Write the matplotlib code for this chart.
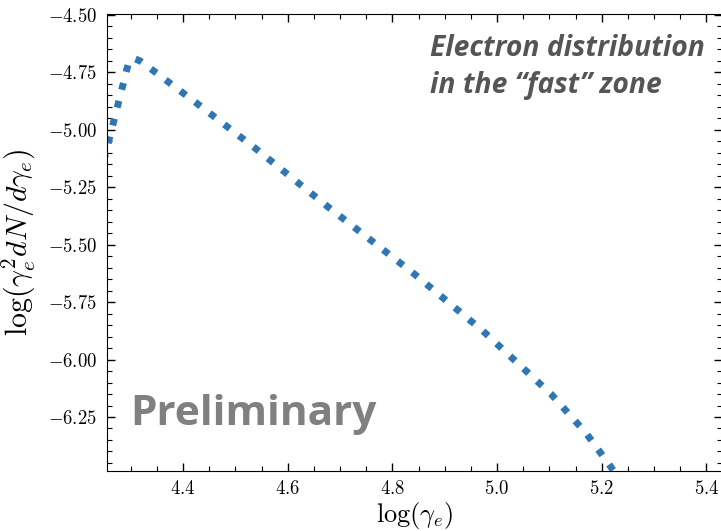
import numpy as np
import matplotlib
matplotlib.use("Agg")
import matplotlib.pyplot as plt
from matplotlib.ticker import MultipleLocator

# electron spectrum in the fast zone (log-log)
log_gamma = [4.240, 4.2548, 4.2968, 4.3073, 4.3178, 4.3465, 4.4306, 4.5395,
             4.6751, 4.8394, 4.9732, 5.1031, 5.170, 5.212, 5.240]
log_spec = [-5.214, -5.079, -4.700, -4.690, -4.700, -4.748, -4.892, -5.083,
            -5.332, -5.623, -5.876, -6.150, -6.320, -6.450, -6.540]

plt.rcParams['font.family'] = 'cmr10'
plt.rcParams['mathtext.fontset'] = 'cm'
plt.rcParams['axes.formatter.use_mathtext'] = True
plt.rcParams['axes.unicode_minus'] = True

fig = plt.figure(figsize=(7.21, 5.31), dpi=100)
ax = fig.add_axes([0.1484, 0.1139, 0.853, 0.8597])

ax.plot(log_gamma, log_spec, linestyle=':', linewidth=5, color='#2f76b3')

ax.set_xlim(4.2548, 5.4298)
ax.set_ylim(-6.483, -4.496)

ax.xaxis.set_major_locator(MultipleLocator(0.2))
ax.xaxis.set_minor_locator(MultipleLocator(0.05))
ax.yaxis.set_major_locator(MultipleLocator(0.25))
ax.yaxis.set_minor_locator(MultipleLocator(0.05))
ax.tick_params(which='both', direction='in', top=True, right=True)
ax.tick_params(which='major', length=6, width=1, labelsize=13.5, pad=7)
ax.tick_params(which='minor', length=3.5, width=0.8)

ax.set_xlabel(r'$\log(\gamma_e)$', fontsize=19)
ax.set_ylabel(r'$\log(\gamma_e^2 dN/d\gamma_e)$', fontsize=21.5)
ax.xaxis.set_label_coords(0.5, -0.0646)
ax.yaxis.set_label_coords(-0.112, 0.5)

ax.text(0.972, 0.957, 'Electron distribution\nin the \u201cfast\u201d zone',
        transform=ax.transAxes, ha='right', va='top', multialignment='left',
        fontsize=20.3, family='Open Sans', weight='bold', style='italic',
        color='#555555', linespacing=1.4)
ax.text(0.0374, 0.0997, 'Preliminary', transform=ax.transAxes,
        ha='left', va='baseline', fontsize=30.5, family='Open Sans',
        weight='bold', color='#808080')

fig.savefig('out.png', dpi=100)
